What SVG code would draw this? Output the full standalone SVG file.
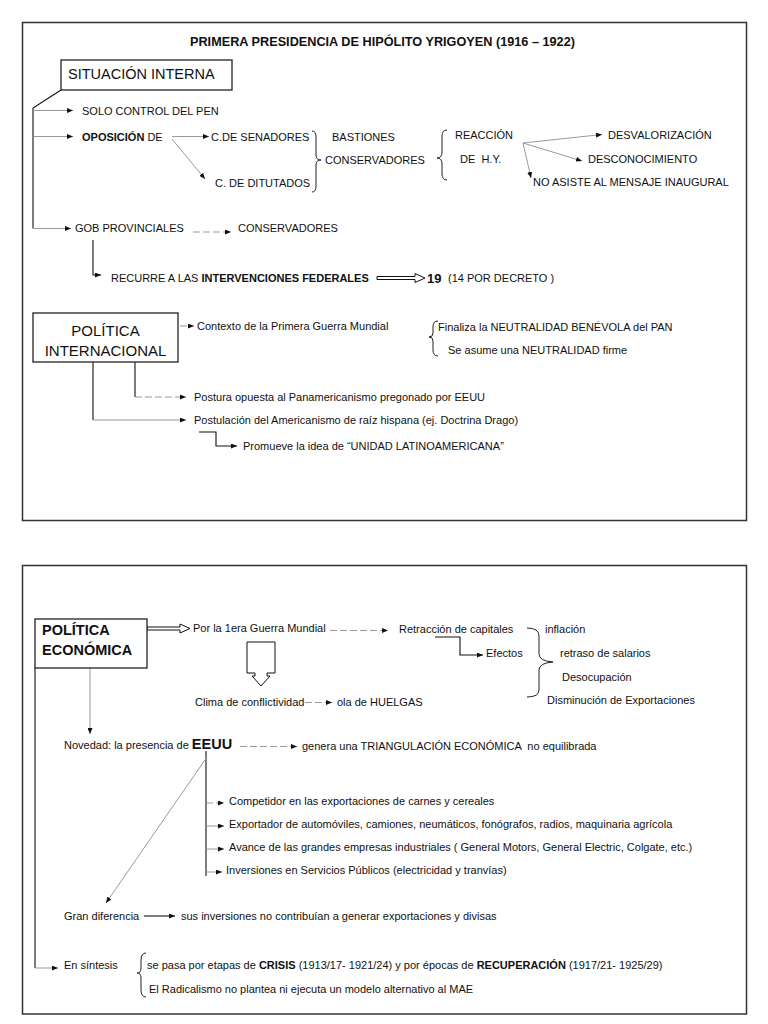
<svg xmlns="http://www.w3.org/2000/svg" width="768" height="1024" viewBox="0 0 768 1024">
<defs>
<style>
text{font-family:"Liberation Sans",Arial,sans-serif;font-size:11px;fill:#111;white-space:pre}
.b{font-weight:bold}
.frame{fill:none;stroke:#333;stroke-width:1.5}
.box{fill:#fff;stroke:#222;stroke-width:1.3}
.ln{fill:none;stroke:#111;stroke-width:1.1}
.lg{fill:none;stroke:#9a9a9a;stroke-width:1}
.ld{fill:none;stroke:#999;stroke-width:1;stroke-dasharray:7 3}
.br{fill:none;stroke:#222;stroke-width:1}
.dbl{fill:#fff;stroke:#111;stroke-width:1}
</style>
<marker id="ah" viewBox="0 0 6 5" refX="6" refY="2.5" markerWidth="6" markerHeight="5" orient="auto" markerUnits="userSpaceOnUse"><path d="M0,0 L6,2.5 L0,5 z" fill="#111"/></marker>
</defs>
<rect width="768" height="1024" fill="#fff"/>

<!-- TOP PANEL -->
<rect class="frame" x="22.5" y="22.5" width="724" height="498"/>
<text x="190" y="46" class="b" style="font-size:12.7px">PRIMERA PRESIDENCIA DE HIPÓLITO YRIGOYEN (1916 – 1922)</text>

<g id="connectors">
  <!-- top panel -->
  <path class="ln" d="M61,90 L33,108 V228.5"/>
  <path class="lg" d="M33,110.5 H73" marker-end="url(#ah)"/>
  <path class="lg" d="M33,136.5 H73" marker-end="url(#ah)"/>
  <path class="lg" d="M33,228.5 H71" marker-end="url(#ah)"/>
  <path class="lg" d="M172,136.5 H209" marker-end="url(#ah)"/>
  <path class="lg" d="M172,139 L205,179" marker-end="url(#ah)"/>
  <path class="lg" d="M523,143 L602,134.5" marker-end="url(#ah)"/>
  <path class="lg" d="M523,143 L582,161" marker-end="url(#ah)"/>
  <path class="lg" d="M523,143 L531,178" marker-end="url(#ah)"/>
  <path class="ld" d="M193,232 H231" marker-end="url(#ah)"/>
  <path class="ln" d="M93,240 V275 H101" marker-end="url(#ah)"/>
  <path class="dbl" d="M377,276.5 H415 V273.5 L425,278 L415,282.5 V279.5 H377 Z"/>
  <path class="ld" d="M180,326 H194" marker-end="url(#ah)"/>
  <path class="ln" d="M93,362 V420"/>
  <path class="ln" d="M135,362 V397"/>
  <path class="ld" d="M135,397 H186" marker-end="url(#ah)"/>
  <path class="lg" d="M93,420 H186" marker-end="url(#ah)"/>
  <path class="ln" d="M199,432 H216 V446 H237" marker-end="url(#ah)"/>
  <!-- bottom panel -->
  <path class="dbl" d="M147,627 H180 V624 L190,628.5 L180,633 V630 H147 Z"/>
  <path class="ld" d="M330,630.5 H388" marker-end="url(#ah)"/>
  <path class="ln" d="M435,637 H460 V655 H483" marker-end="url(#ah)"/>
  <path class="dbl" d="M247,642 H275 V673 H267 V676 H270 L261,686 L252,676 H255 V673 H247 Z"/>
  <path class="ld" d="M305,702.5 H332" marker-end="url(#ah)"/>
  <path class="lg" d="M90,668 V734" marker-end="url(#ah)"/>
  <path class="ln" d="M35,668 V968"/>
  <path class="lg" d="M35,968 H58" marker-end="url(#ah)"/>
  <path class="ld" d="M240,746.5 H297" marker-end="url(#ah)"/>
  <path class="ln" d="M206,751 V876"/>
  <path class="ld" d="M206,803 H224" marker-end="url(#ah)"/>
  <path class="lg" d="M206,826 H224" marker-end="url(#ah)"/>
  <path class="lg" d="M206,849 H224" marker-end="url(#ah)"/>
  <path class="lg" d="M206,872 H222" marker-end="url(#ah)"/>
  <path class="lg" d="M207,757 L106,903" marker-end="url(#ah)"/>
  <path class="ln" d="M144,916 H175" marker-end="url(#ah)"/>
</g>

<g id="situacion-interna">
  <rect class="box" x="61" y="60" width="171" height="30"/>
  <text x="68" y="79" style="font-size:14.5px">SITUACIÓN INTERNA</text>
</g>
<g id="solo-control"><text x="82" y="114.5">SOLO CONTROL DEL PEN</text></g>
<g id="oposicion"><text x="82" y="140.5"><tspan class="b">OPOSICIÓN</tspan> DE</text></g>
<g id="senadores"><text x="211" y="140.5">C.DE SENADORES</text></g>
<g id="diputados"><text x="215" y="187">C. DE DITUTADOS</text></g>
<g id="bastiones">
  <path class="br" d="M312,131 Q316,131 316,137 V155 Q316,160 321,160 Q316,160 316,165 V186 Q316,192 312,192"/>
  <text x="332" y="140.5">BASTIONES</text>
  <text x="325" y="164">CONSERVADORES</text>
</g>
<g id="reaccion">
  <path class="br" d="M447,130 Q442,130 442,136 V152 Q442,158 437,158 Q442,158 442,164 V174 Q442,180 447,180"/>
  <text x="455" y="139">REACCIÓN</text>
  <text x="460" y="162.5">DE  H.Y.</text>
</g>
<g id="desvalorizacion"><text x="608" y="138.5">DESVALORIZACIÓN</text></g>
<g id="desconocimiento"><text x="588" y="163">DESCONOCIMIENTO</text></g>
<g id="no-asiste"><text x="533" y="185.5">NO ASISTE AL MENSAJE INAUGURAL</text></g>
<g id="gob-provinciales"><text x="75" y="232">GOB PROVINCIALES</text></g>
<g id="conservadores"><text x="238" y="232">CONSERVADORES</text></g>
<g id="intervenciones">
  <text x="111" y="282">RECURRE A LAS <tspan class="b">INTERVENCIONES FEDERALES</tspan></text>
</g>
<g id="diecinueve">
  <text x="427" y="282.5" class="b" style="font-size:13px">19</text>
  <text x="448" y="282">(14 POR DECRETO )</text>
</g>
<g id="politica-internacional">
  <rect class="box" x="33" y="313" width="145" height="49"/>
  <text x="105.5" y="335.5" text-anchor="middle" style="font-size:15px">POLÍTICA</text>
  <text x="105.5" y="355.5" text-anchor="middle" style="font-size:15px">INTERNACIONAL</text>
</g>
<g id="contexto"><text x="197" y="330">Contexto de la Primera Guerra Mundial</text></g>
<g id="neutralidad">
  <path class="br" d="M438,321 Q433,321 433,327 V333 Q433,337 429,337 Q433,337 433,341 V350 Q433,356 438,356"/>
  <text x="438" y="330.5">Finaliza la NEUTRALIDAD BENÉVOLA del PAN</text>
  <text x="448" y="354">Se asume una NEUTRALIDAD firme</text>
</g>
<g id="postura"><text x="194" y="401">Postura opuesta al Panamericanismo pregonado por EEUU</text></g>
<g id="postulacion"><text x="194" y="424">Postulación del Americanismo de raíz hispana (ej. Doctrina Drago)</text></g>
<g id="promueve"><text x="243" y="449.5">Promueve la idea de “UNIDAD LATINOAMERICANA”</text></g>

<!-- BOTTOM PANEL -->
<rect class="frame" x="22.5" y="565.5" width="724" height="448.5"/>
<g id="politica-economica">
  <rect class="box" x="35" y="619" width="112" height="49"/>
  <text x="42" y="635" class="b" style="font-size:14.5px">POLÍTICA</text>
  <text x="42" y="654.5" class="b" style="font-size:14.5px">ECONÓMICA</text>
</g>
<g id="guerra"><text x="193" y="632">Por la 1era Guerra Mundial</text></g>
<g id="retraccion"><text x="399" y="633">Retracción de capitales</text></g>
<g id="efectos"><text x="486" y="657">Efectos</text></g>
<g id="efectos-lista">
  <path class="br" d="M527,628 Q539,628 539,636 V654 Q539,661 553,662 Q539,663 539,670 V690 Q539,697 527,697"/>
  <text x="545" y="633">inflación</text>
  <text x="560" y="657">retraso de salarios</text>
  <text x="562" y="681">Desocupación</text>
  <text x="547" y="704">Disminución de Exportaciones</text>
</g>
<g id="clima"><text x="195" y="705.5">Clima de conflictividad</text></g>
<g id="huelgas"><text x="337" y="705.5">ola de HUELGAS</text></g>
<g id="novedad"><text x="64" y="749">Novedad: la presencia de <tspan class="b" style="font-size:14.5px">EEUU</tspan></text></g>
<g id="triangulacion"><text x="302" y="750">genera una TRIANGULACIÓN ECONÓMICA  no equilibrada</text></g>
<g id="competidor"><text x="229" y="805">Competidor en las exportaciones de carnes y cereales</text></g>
<g id="exportador"><text x="229" y="828">Exportador de automóviles, camiones, neumáticos, fonógrafos, radios, maquinaria agrícola</text></g>
<g id="avance"><text x="229" y="851">Avance de las grandes empresas industriales ( General Motors, General Electric, Colgate, etc.)</text></g>
<g id="inversiones"><text x="226" y="874">Inversiones en Servicios Públicos (electricidad y tranvías)</text></g>
<g id="gran-diferencia"><text x="64" y="920">Gran diferencia</text></g>
<g id="sus-inversiones"><text x="181" y="920">sus inversiones no contribuían a generar exportaciones y divisas</text></g>
<g id="sintesis"><text x="64" y="969">En síntesis</text></g>
<g id="sintesis-lista">
  <path class="br" d="M146,953 Q141,953 141,960 V968 Q141,973 137,973 Q141,973 141,978 V990 Q141,997 146,997"/>
  <text x="147" y="969">se pasa por etapas de <tspan class="b">CRISIS</tspan> (1913/17- 1921/24) y por épocas de <tspan class="b">RECUPERACIÓN</tspan> (1917/21- 1925/29)</text>
  <text x="149" y="993">El Radicalismo no plantea ni ejecuta un modelo alternativo al MAE</text>
</g>
</svg>
